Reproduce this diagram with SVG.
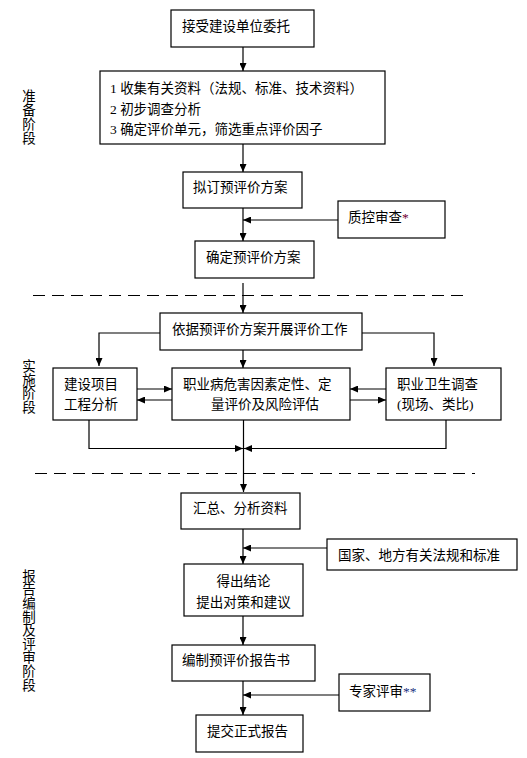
<svg xmlns="http://www.w3.org/2000/svg" width="527" height="758" viewBox="0 0 527 758">
<style>
rect.b{fill:#fff;stroke:#000;stroke-width:1.2}
text{font-family:"Liberation Serif","Noto Sans CJK SC",serif;font-size:13.5px;fill:#000}
text.v{font-family:"Noto Sans CJK SC",sans-serif;font-size:13.5px;writing-mode:vertical-rl;text-orientation:upright}
.c line,.c polyline{stroke:#000;stroke-width:1.2;fill:none}
.a{marker-end:url(#ah)}
.d{stroke:#000;stroke-width:1.2;stroke-dasharray:12 7}
</style>
<defs>
<marker id="ah" markerUnits="userSpaceOnUse" markerWidth="8" markerHeight="7" refX="8" refY="3.5" orient="auto">
<path d="M0,0 L8,3.5 L0,7 z" fill="#000"/>
</marker>
</defs>
<rect width="527" height="758" fill="#fff"/>
<g id="phase-labels">
<text class="v" x="29" y="89" letter-spacing="0.5">准备阶段</text>
<text class="v" x="29" y="359" letter-spacing="0.3">实施阶段</text>
<text class="v" x="29" y="569" letter-spacing="0.1">报告编制及评审阶段</text>
</g>
<g id="separators">
<line class="d" x1="33" y1="295.5" x2="467" y2="295.5"/>
<line class="d" x1="35" y1="473.5" x2="475" y2="473.5"/>
</g>
<g class="c" id="connectors">
<line class="a" x1="243" y1="47" x2="243" y2="71"/>
<line class="a" x1="243" y1="144" x2="243" y2="172"/>
<line class="a" x1="243" y1="208" x2="243" y2="241"/>
<line class="a" x1="338" y1="220" x2="243" y2="220"/>
<line class="a" x1="243" y1="283" x2="243" y2="313"/>
<polyline class="a" points="160,333 99,333 99,366"/>
<polyline class="a" points="362,333 434,333 434,366"/>
<line class="a" x1="243" y1="350" x2="243" y2="368"/>
<line class="a" x1="137" y1="389" x2="172" y2="389"/>
<line class="a" x1="172" y1="400" x2="137" y2="400"/>
<line class="a" x1="386" y1="389" x2="350" y2="389"/>
<line class="a" x1="350" y1="400" x2="386" y2="400"/>
<polyline class="a" points="89,420 89,448.5 243,448.5"/>
<polyline class="a" points="446,420 446,448.5 244,448.5"/>
<line class="a" x1="243.5" y1="420" x2="243.5" y2="492"/>
<line class="a" x1="243" y1="529" x2="243" y2="564"/>
<line class="a" x1="327" y1="548" x2="243" y2="548"/>
<line class="a" x1="243" y1="616" x2="243" y2="645"/>
<line class="a" x1="243" y1="681" x2="243" y2="715"/>
<line class="a" x1="339" y1="695" x2="243" y2="695"/>
</g>
<g id="n1"><rect class="b" x="171" y="10" width="143" height="37"/><text x="182" y="31">接受建设单位委托</text></g>
<g id="n2"><rect class="b" x="100" y="71" width="285" height="73"/>
<text x="110" y="93">1 收集有关资料（法规、标准、技术资料）</text>
<text x="110" y="114">2 初步调查分析</text>
<text x="110" y="134">3 确定评价单元，筛选重点评价因子</text></g>
<g id="n3"><rect class="b" x="183" y="172" width="119" height="36"/><text x="193" y="192">拟订预评价方案</text></g>
<g id="n-qc"><rect class="b" x="338" y="201" width="107" height="37"/><text x="348" y="222">质控审查<tspan fill="#700030">*</tspan></text></g>
<g id="n4"><rect class="b" x="195" y="241" width="119" height="37"/><text x="206" y="262">确定预评价方案</text></g>
<g id="n5"><rect class="b" x="160" y="313" width="202" height="37"/><text x="172" y="334">依据预评价方案开展评价工作</text></g>
<g id="n6"><rect class="b" x="53" y="368" width="84" height="52"/><text x="64" y="389">建设项目</text><text x="64" y="409">工程分析</text></g>
<g id="n7"><rect class="b" x="172" y="368" width="178" height="52"/><text x="183" y="389">职业病危害因素定性、定</text><text x="211" y="409">量评价及风险评估</text></g>
<g id="n8"><rect class="b" x="386" y="368" width="115" height="52"/><text x="397" y="389">职业卫生调查</text><text x="397" y="409">(现场、类比)</text></g>
<g id="n9"><rect class="b" x="181" y="493" width="119" height="36"/><text x="193" y="513">汇总、分析资料</text></g>
<g id="n-law"><rect class="b" x="327" y="539" width="190" height="31"/><text x="338" y="560">国家、地方有关法规和标准</text></g>
<g id="n10"><rect class="b" x="184" y="564" width="119" height="52"/><text x="243.5" y="586" text-anchor="middle">得出结论</text><text x="243.5" y="607" text-anchor="middle">提出对策和建议</text></g>
<g id="n11"><rect class="b" x="172" y="645" width="143" height="36"/><text x="182" y="665">编制预评价报告书</text></g>
<g id="n-expert"><rect class="b" x="339" y="674" width="91" height="37"/><text x="349" y="696">专家评审<tspan fill="#203080">**</tspan></text></g>
<g id="n12"><rect class="b" x="196" y="715" width="107" height="37"/><text x="207" y="736">提交正式报告</text></g>
</svg>
